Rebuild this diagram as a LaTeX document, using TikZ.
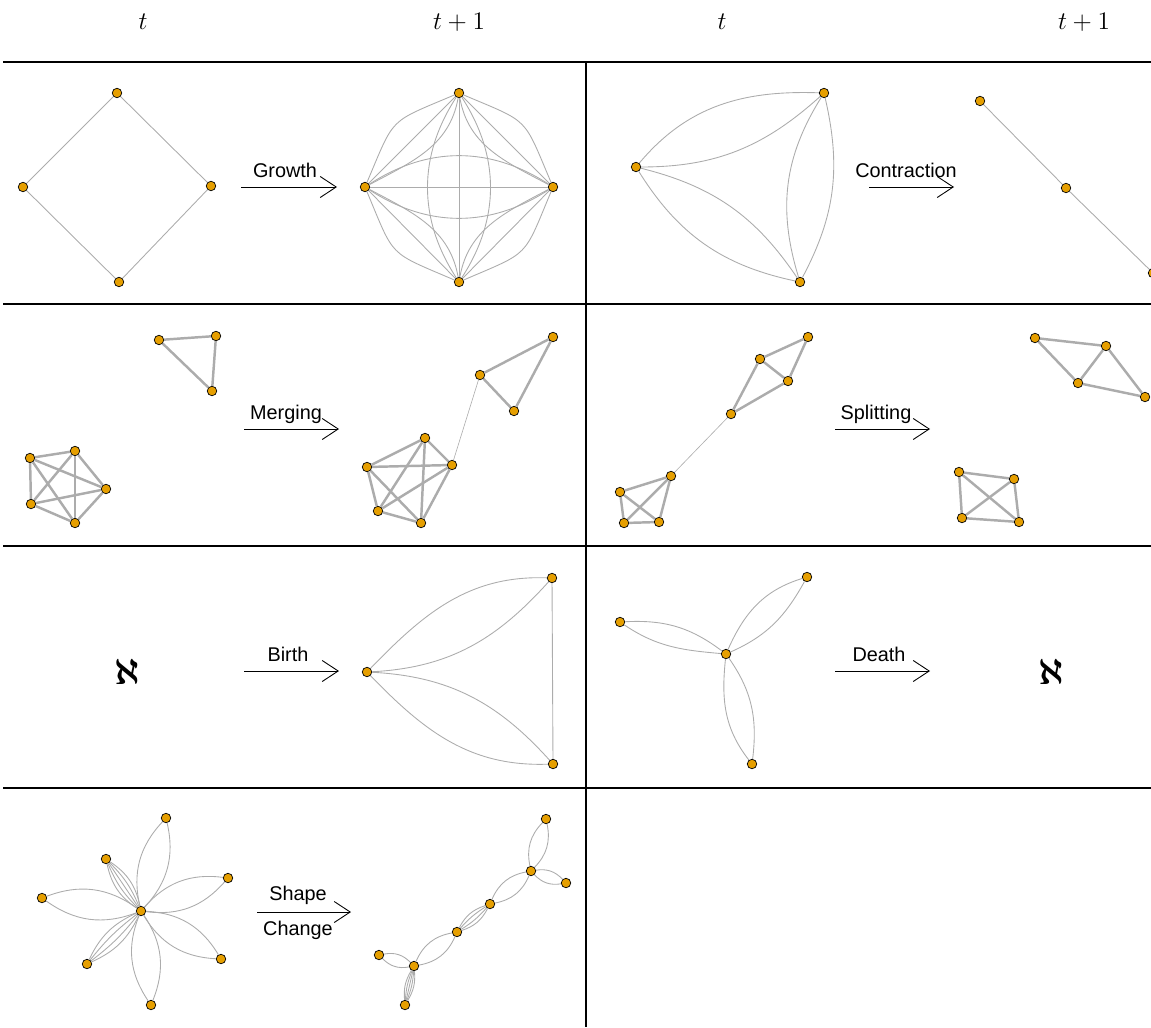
\documentclass[tikz,border=0pt]{standalone}
\usepackage{fontspec}
\setmainfont{Liberation Sans}
\usepackage{amsmath}
\usetikzlibrary{arrows.meta}

\definecolor{vfill}{RGB}{230,159,0}
\definecolor{egray}{RGB}{172,172,172}

\begin{document}
\begin{tikzpicture}[x=0.02cm,y=0.02cm,
    vtx/.style={circle,draw=black,fill=vfill,line width=0.4pt,inner sep=0pt,minimum size=0.19cm},
    edge/.style={draw=egray,line width=0.5pt},
    tedge/.style={draw=egray,line width=1.4pt},
    link/.style={draw=egray,line width=0.35pt},
    trans/.style={-{Straight Barb[length=0.32cm,width=0.42cm]},line width=0.5pt},
    lbl/.style={font=\fontsize{11.3}{13}\selectfont,inner sep=0pt,anchor=base},
    hdr/.style={font=\fontsize{15}{17}\selectfont,inner sep=0pt,anchor=base},
    nix/.style={font=\fontsize{21}{23}\selectfont\boldmath,inner sep=0pt},
    rule/.style={line width=0.05cm}]
  \useasboundingbox (0,0) rectangle (1151,-1027);

  % headings
  \node[hdr] (h1) at (143,-30) {$t$};
  \node[hdr] (h2) at (459,-30) {$t+1$};
  \node[hdr] (h3) at (722,-30) {$t$};
  \node[hdr] (h4) at (1084,-30) {$t+1$};

  % table rules
  \foreach \y in {62,304,546,788}
    \draw[rule] (3,-\y) -- (1151,-\y);
  \draw[rule] (586,-62) -- (586,-1027);

  % growth
  \node[vtx] (gaT) at (117,-93) {};
  \node[vtx] (gaL) at (23,-187) {};
  \node[vtx] (gaR) at (211,-186) {};
  \node[vtx] (gaB) at (119,-282) {};
  \foreach \u/\v in {gaT/gaL,gaT/gaR,gaL/gaB,gaR/gaB}
    \draw[edge] (\u) -- (\v);
  \coordinate (g0) at (241,-187);
  \coordinate (g9) at (337,-187);
  \draw[trans] (g0) -- (g9);
  \node[lbl] (gl) at (285,-177) {Growth};
  \node[vtx] (gbT) at (459,-93) {};
  \node[vtx] (gbL) at (365,-187) {};
  \node[vtx] (gbR) at (553,-187) {};
  \node[vtx] (gbB) at (459,-282) {};
  \foreach \u/\v in {gbL/gbT,gbT/gbR,gbR/gbB,gbB/gbL}{
    \draw[edge] (\u) -- (\v);
    \draw[edge] (\u) to[bend left=22,looseness=1.5] (\v);
  }
  \draw[edge] (gbT) to[out=-100,in=28] (gbL);
  \draw[edge] (gbT) to[out=-80,in=152] (gbR);
  \draw[edge] (gbB) to[out=100,in=-28] (gbL);
  \draw[edge] (gbB) to[out=80,in=-152] (gbR);
  \draw[edge] (gbT) -- (gbB);
  \draw[edge] (gbL) -- (gbR);
  \foreach \b in {-33,33}{
    \draw[edge] (gbT) to[bend left=\b] (gbB);
    \draw[edge] (gbL) to[bend left=\b] (gbR);
  }

  % contraction
  \node[vtx] (caA) at (636,-167) {};
  \node[vtx] (caB) at (824,-93) {};
  \node[vtx] (caC) at (800,-282) {};
  \draw[edge] (caA) to[out=50,in=178] (caB);
  \draw[edge] (caA) to[out=0,in=-138] (caB);
  \draw[edge] (caA) to[out=-58,in=168] (caC);
  \draw[edge] (caA) to[out=-14,in=124] (caC);
  \draw[edge] (caB) to[out=-122,in=107] (caC);
  \draw[edge] (caB) to[out=-77,in=62] (caC);
  \coordinate (c0) at (869,-187);
  \coordinate (c9) at (954,-187);
  \draw[trans] (c0) -- (c9);
  \node[lbl] (cl) at (906,-177) {Contraction};
  \node[vtx] (cb1) at (980,-101) {};
  \node[vtx] (cb2) at (1066,-188) {};
  \node[vtx] (cb3) at (1153,-273) {};
  \draw[edge] (cb1) -- (cb2) -- (cb3);

  % merging
  \node[vtx] (maA) at (159,-340) {};
  \node[vtx] (maB) at (216,-336) {};
  \node[vtx] (maC) at (212,-391) {};
  \node[vtx] (mp1) at (30,-458) {};
  \node[vtx] (mp2) at (75,-451) {};
  \node[vtx] (mp3) at (106,-489) {};
  \node[vtx] (mp4) at (31,-504) {};
  \node[vtx] (mp5) at (75,-523) {};
  \foreach \u/\v in {maA/maB,maA/maC,maB/maC,
      mp1/mp2,mp1/mp3,mp1/mp4,mp1/mp5,mp2/mp3,mp2/mp4,mp2/mp5,mp3/mp4,mp3/mp5,mp4/mp5}
    \draw[tedge] (\u) -- (\v);
  \coordinate (m0) at (244,-429);
  \coordinate (m9) at (339,-429);
  \draw[trans] (m0) -- (m9);
  \node[lbl] (ml) at (286,-419) {Merging};
  \node[vtx] (mbA) at (480,-375) {};
  \node[vtx] (mbB) at (553,-337) {};
  \node[vtx] (mbC) at (514,-411) {};
  \node[vtx] (mq1) at (367,-467) {};
  \node[vtx] (mq2) at (425,-438) {};
  \node[vtx] (mq3) at (452,-465) {};
  \node[vtx] (mq4) at (378,-511) {};
  \node[vtx] (mq5) at (421,-523) {};
  \foreach \u/\v in {mbA/mbB,mbA/mbC,mbB/mbC,
      mq1/mq2,mq1/mq3,mq1/mq4,mq1/mq5,mq2/mq3,mq2/mq4,mq2/mq5,mq3/mq4,mq3/mq5,mq4/mq5}
    \draw[tedge] (\u) -- (\v);
  \draw[link] (mbA) -- (mq3);

  % splitting
  \node[vtx] (sa1) at (808,-337) {};
  \node[vtx] (sa2) at (760,-359) {};
  \node[vtx] (sa3) at (788,-381) {};
  \node[vtx] (sa4) at (731,-414) {};
  \node[vtx] (sk1) at (671,-476) {};
  \node[vtx] (sk2) at (620,-492) {};
  \node[vtx] (sk3) at (624,-523) {};
  \node[vtx] (sk4) at (659,-522) {};
  \foreach \u/\v in {sa1/sa2,sa1/sa3,sa2/sa3,sa2/sa4,sa3/sa4,
      sk1/sk2,sk1/sk3,sk1/sk4,sk2/sk3,sk2/sk4,sk3/sk4}
    \draw[tedge] (\u) -- (\v);
  \draw[link] (sa4) -- (sk1);
  \coordinate (s0) at (835,-429);
  \coordinate (s9) at (930,-429);
  \draw[trans] (s0) -- (s9);
  \node[lbl] (sl) at (876,-419) {Splitting};
  \node[vtx] (sb1) at (1035,-338) {};
  \node[vtx] (sb2) at (1106,-346) {};
  \node[vtx] (sb3) at (1078,-383) {};
  \node[vtx] (sb4) at (1145,-397) {};
  \node[vtx] (sq1) at (959,-472) {};
  \node[vtx] (sq2) at (1014,-479) {};
  \node[vtx] (sq3) at (962,-518) {};
  \node[vtx] (sq4) at (1019,-522) {};
  \foreach \u/\v in {sb1/sb2,sb1/sb3,sb2/sb3,sb2/sb4,sb3/sb4,
      sq1/sq2,sq1/sq3,sq1/sq4,sq2/sq3,sq2/sq4,sq3/sq4}
    \draw[tedge] (\u) -- (\v);

  % birth
  \node[nix] (bx) at (127,-672) {$\aleph$};
  \coordinate (b0) at (244,-671);
  \coordinate (b9) at (339,-671);
  \draw[trans] (b0) -- (b9);
  \node[lbl] (bl) at (288,-661) {Birth};
  \node[vtx] (bi1) at (367,-672) {};
  \node[vtx] (bi2) at (552,-578) {};
  \node[vtx] (bi3) at (553,-764) {};
  \draw[edge] (bi1) to[out=46,in=178] (bi2);
  \draw[edge] (bi1) to[out=3,in=-132] (bi2);
  \draw[edge] (bi1) to[out=-46,in=-178] (bi3);
  \draw[edge] (bi1) to[out=-3,in=132] (bi3);
  \draw[edge] (bi2) -- (bi3);

  % death
  \node[vtx] (de0) at (726,-654) {};
  \node[vtx] (de1) at (620,-622) {};
  \node[vtx] (de2) at (807,-577) {};
  \node[vtx] (de3) at (752,-764) {};
  \draw[edge] (de1) to[out=3,in=143] (de0);
  \draw[edge] (de1) to[out=-34,in=175] (de0);
  \draw[edge] (de0) to[out=66,in=-163] (de2);
  \draw[edge] (de0) to[out=24,in=-119] (de2);
  \draw[edge] (de0) to[out=-96,in=128] (de3);
  \draw[edge] (de0) to[out=-55,in=83] (de3);
  \coordinate (d0) at (835,-671);
  \coordinate (d9) at (930,-671);
  \draw[trans] (d0) -- (d9);
  \node[lbl] (dl) at (879,-661) {Death};
  \node[nix] (dx) at (1051,-672) {$\aleph$};

  % shape change
  \node[vtx] (sc0) at (141,-911) {};
  \node[vtx] (sc1) at (166,-818) {};
  \node[vtx] (sc2) at (106,-859) {};
  \node[vtx] (sc3) at (228,-878) {};
  \node[vtx] (sc4) at (42,-898) {};
  \node[vtx] (sc5) at (87,-964) {};
  \node[vtx] (sc6) at (221,-959) {};
  \node[vtx] (sc7) at (151,-1005) {};
  \foreach \v in {sc1,sc3,sc4,sc6,sc7}
    \foreach \b in {-28,28}
      \draw[edge] (sc0) to[bend left=\b] (\v);
  \foreach \b in {-22,-11,0,11,22}
    \draw[edge] (sc0) to[bend left=\b] (sc2);
  \foreach \b in {-20,-7,7,20}
    \draw[edge] (sc0) to[bend left=\b] (sc5);
  \coordinate (x0) at (257,-912);
  \coordinate (x9) at (351,-912);
  \draw[trans] (x0) -- (x9);
  \node[lbl] (xl1) at (298,-900) {Shape};
  \node[lbl] (xl2) at (298,-935) {Change};
  \node[vtx] (sd1) at (546,-819) {};
  \node[vtx] (sd2) at (531,-871) {};
  \node[vtx] (sd3) at (566,-883) {};
  \node[vtx] (sd4) at (490,-904) {};
  \node[vtx] (sd5) at (457,-932) {};
  \node[vtx] (sd6) at (414,-966) {};
  \node[vtx] (sd7) at (379,-955) {};
  \node[vtx] (sd8) at (405,-1005) {};
  \foreach \u/\v in {sd2/sd1,sd2/sd3,sd4/sd2,sd6/sd5,sd6/sd7}
    \foreach \b in {-28,28}
      \draw[edge] (\u) to[bend left=\b] (\v);
  \foreach \b in {-22,-8,8,22}
    \draw[edge] (sd5) to[bend left=\b] (sd4);
  \foreach \b in {-18,-9,0,9,18}
    \draw[edge] (sd6) to[bend left=\b] (sd8);
\end{tikzpicture}
\end{document}
